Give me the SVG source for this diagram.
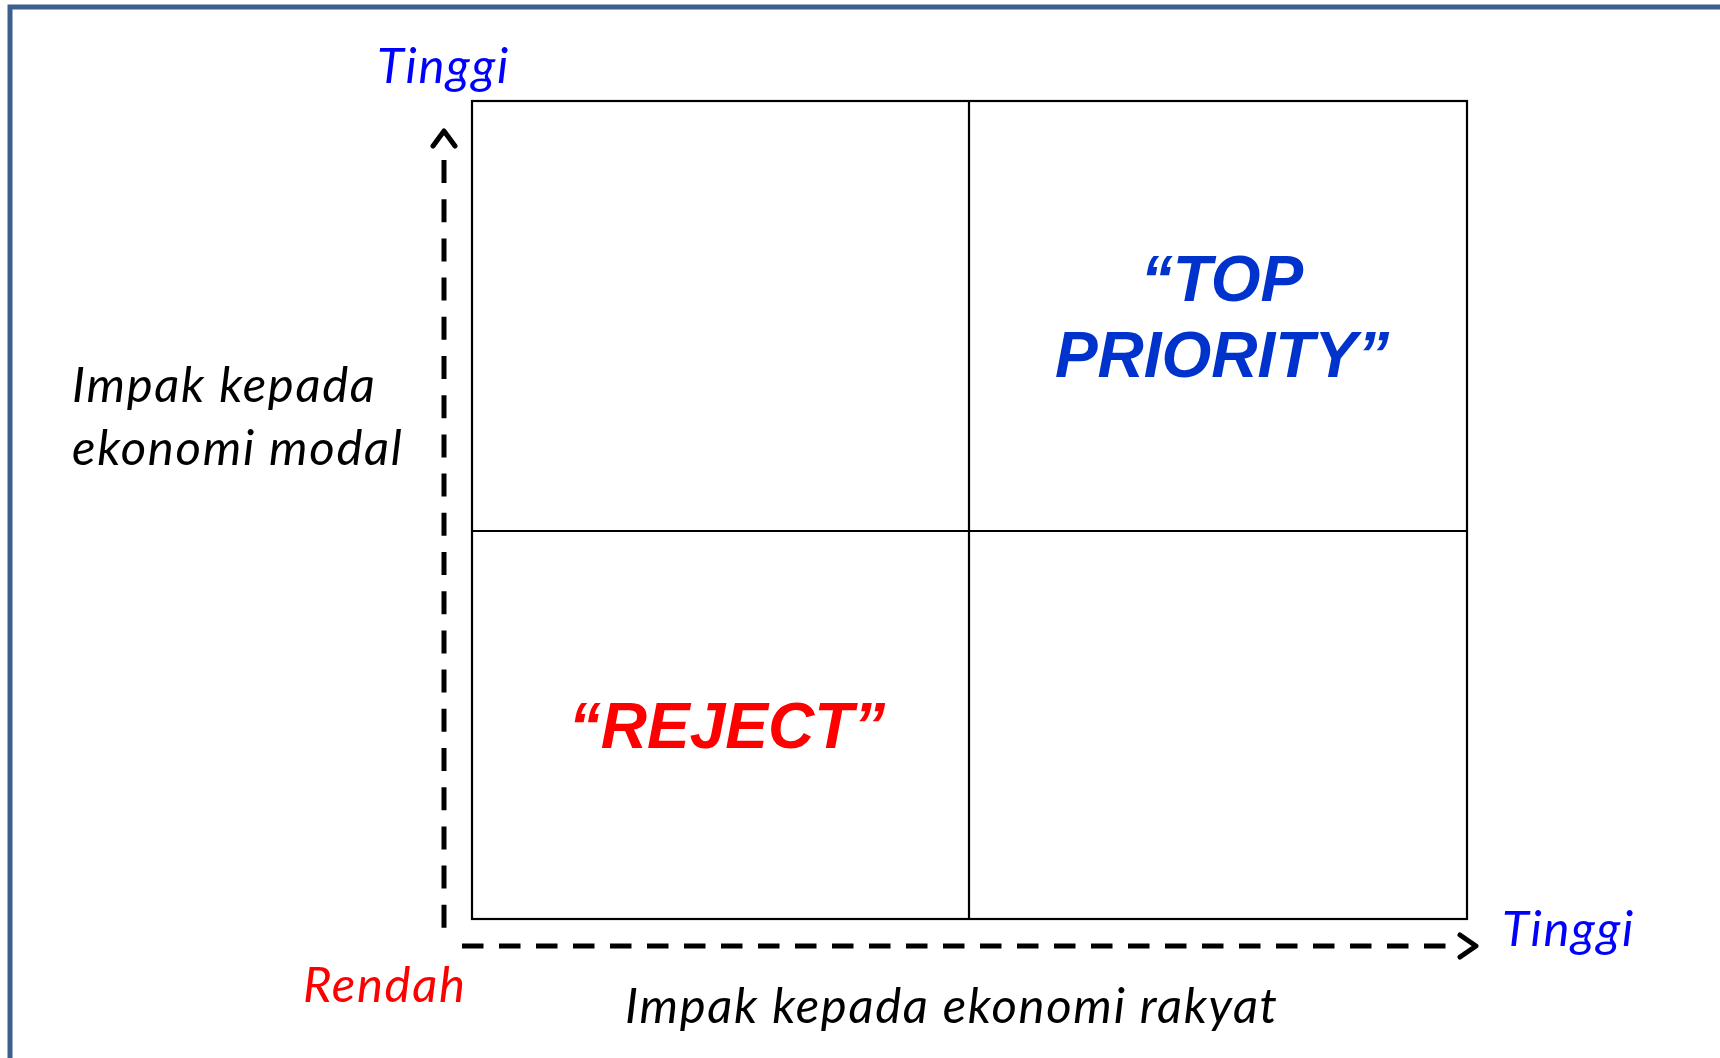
<svg xmlns="http://www.w3.org/2000/svg" width="1720" height="1058" viewBox="0 0 1720 1058">
<style>
.lbl{font-family:Lato,"Open Sans","Liberation Sans",sans-serif;font-style:italic;font-size:49px;letter-spacing:1.7px}
.big{font-family:"Liberation Sans",Arial,sans-serif;font-style:italic;font-weight:bold;font-size:64px;text-anchor:middle}
.grid{fill:none;stroke:#000;stroke-width:2.2}
.axis{fill:none;stroke:#000;stroke-width:5}
.head{fill:none;stroke:#000;stroke-width:5;stroke-linecap:round;stroke-linejoin:round}
</style>
<rect x="0" y="0" width="1720" height="1058" fill="#fff"/>
<rect id="frame" x="10" y="7" width="1760" height="1100" fill="none" stroke="#3c5f8d" stroke-width="5"/>
<g id="quadrants">
<rect class="grid" x="472" y="101" width="995" height="818"/>
<line class="grid" x1="969" y1="101" x2="969" y2="919"/>
<line class="grid" x1="472" y1="531" x2="1467" y2="531"/>
</g>
<g id="connectors">
<line class="axis" x1="444" y1="160" x2="444" y2="928" stroke-dasharray="23 16.2"/>
<polyline class="head" points="433,146 444,131 455,146"/>
<line class="axis" x1="462" y1="946" x2="1453" y2="946" stroke-dasharray="21.5 15.5"/>
<polyline class="head" points="1460,935 1476,946 1460,957"/>
</g>
<g id="y-axis-label">
<text class="lbl" x="72" y="402" fill="#000">Impak kepada</text>
<text class="lbl" x="72" y="465" fill="#000">ekonomi modal</text>
</g>
<g id="x-axis-label">
<text class="lbl" x="625" y="1023" fill="#000">Impak kepada ekonomi rakyat</text>
</g>
<g id="y-high"><text class="lbl" x="377" y="83" fill="#0000ff">Tinggi</text></g>
<g id="x-high"><text class="lbl" x="1502" y="946" fill="#0000ff">Tinggi</text></g>
<g id="low"><text class="lbl" x="303" y="1002" fill="#ff0000">Rendah</text></g>
<g id="top-priority">
<text class="big" x="1222" y="301" fill="#0033cc">“TOP</text>
<text class="big" x="1222" y="377" fill="#0033cc">PRIORITY”</text>
</g>
<g id="reject">
<text class="big" x="727" y="748" fill="#ff0000">“REJECT”</text>
</g>
</svg>
